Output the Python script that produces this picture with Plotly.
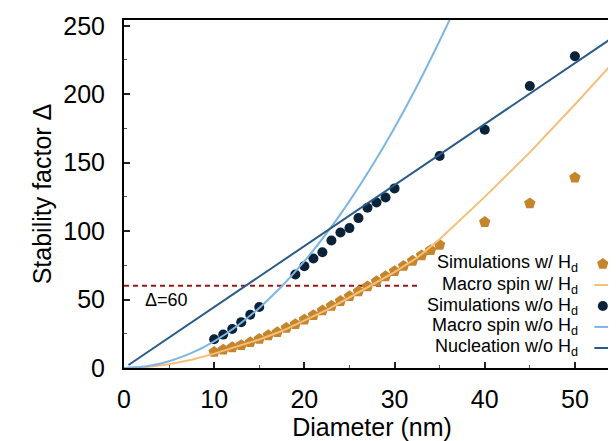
import plotly.graph_objects as go

# ---------------- data ----------------
sim_w_d = [10, 11, 12, 13, 14, 15, 16, 17, 18, 19, 20, 21, 22, 23, 24, 25, 26, 27,
           28, 29, 30, 31, 32, 33, 34, 35, 40, 45, 50]
sim_w_delta = [11.7, 13.4, 15.1, 16.7, 18.8, 21.2, 23.9, 26.1, 29.3, 32.0, 35.3, 38.6,
               42.0, 45.4, 48.9, 52.4, 56.0, 59.6, 63.3, 67.0, 70.7, 74.5, 78.3,
               82.2, 86.1, 90.0, 106.6, 120.2, 139.0]

macro_w_d = [0, 2.5, 5, 7.5, 10, 12.5, 15, 17.5, 20, 22.5, 25, 27.5, 30, 32.5, 35,
             40, 45, 50, 55]
macro_w_delta = [0, 0.7, 2.8, 6.0, 10.5, 15.5, 20.8, 27.0, 34.5, 42.5, 51.5, 60.5,
                 70.0, 80.5, 94.0, 125.0, 157.5, 192.5, 228.5]

sim_wo_d = [10, 11, 12, 13, 14, 15, 19, 20, 21, 22, 23, 24, 25, 26, 27, 28, 29, 30,
            35, 40, 45, 50]
sim_wo_delta = [21.0, 24.4, 28.5, 33.5, 38.9, 44.5, 68.3, 74.4, 80.0, 84.6, 93.1,
                99.0, 102.2, 109.5, 117.0, 120.9, 124.6, 131.2, 154.9, 174.1,
                206.0, 227.7]

macro_wo_d = [0, 2.5, 5, 7.5, 10, 12.5, 15, 17.5, 20, 22.5, 25, 27.5, 30, 32.5, 35, 37.5]
macro_wo_delta = [0, 1.2, 4.9, 11.0, 19.5, 30.5, 43.9, 59.7, 78.0, 98.7, 121.9,
                  147.5, 175.5, 206.0, 239.0, 274.0]

nucl_d = [0.5, 55]
nucl_delta = [2.2, 245.0]

thresh_d = [0, 32.5]
thresh_delta = [60, 60]

legend_labels = ["Simulations w/ H<sub>d</sub>", "Macro spin w/ H<sub>d</sub>",
                 "Simulations w/o H<sub>d</sub>", "Macro spin w/o H<sub>d</sub>",
                 "Nucleation w/o H<sub>d</sub>"]

x_ticks = [0, 10, 20, 30, 40, 50]
y_ticks = [0, 50, 100, 150, 200, 250]

# ---------------- styles ----------------
C_PENT = "#c5852d"
C_ORANGE = "#f5bf78"
C_DOT = "#0b2239"
C_LBLUE = "#7db6e3"
C_NUCL = "#2a5b88"
C_RED = "#9b1616"
FONT = "Liberation Sans, Arial, sans-serif"

fig = go.Figure()

fig.add_trace(go.Scatter(x=thresh_d, y=thresh_delta, mode="lines",
                         line=dict(color=C_RED, width=2, dash="5px,4px"),
                         showlegend=False, hoverinfo="skip"))
fig.add_trace(go.Scatter(x=sim_w_d, y=sim_w_delta, mode="markers",
                         marker=dict(symbol="pentagon", size=12, color=C_PENT,
                                     line=dict(width=0)),
                         showlegend=False))
fig.add_trace(go.Scatter(x=macro_w_d, y=macro_w_delta, mode="lines",
                         line=dict(color=C_ORANGE, width=2), showlegend=False))
fig.add_trace(go.Scatter(x=sim_wo_d, y=sim_wo_delta, mode="markers",
                         marker=dict(symbol="circle", size=10, color=C_DOT,
                                     line=dict(width=0)),
                         showlegend=False))
fig.add_trace(go.Scatter(x=macro_wo_d, y=macro_wo_delta, mode="lines",
                         line=dict(color=C_LBLUE, width=2, shape="spline"),
                         showlegend=False))
fig.add_trace(go.Scatter(x=nucl_d, y=nucl_delta, mode="lines",
                         line=dict(color=C_NUCL, width=2), showlegend=False))

# ---------------- custom legend (text left of key, as in reference) ----------------
row_y = [0.299, 0.2385, 0.178, 0.118, 0.0575]
text_x = 0.920
key_x0, key_x1, key_xc = 0.9483, 0.9825, 0.9654
key_styles = [
    dict(kind="marker", marker=dict(symbol="pentagon", size=12, color=C_PENT)),
    dict(kind="line", line=dict(color=C_ORANGE, width=2)),
    dict(kind="marker", marker=dict(symbol="circle", size=10, color=C_DOT)),
    dict(kind="line", line=dict(color=C_LBLUE, width=2)),
    dict(kind="line", line=dict(color=C_NUCL, width=2)),
]
for lab, ry, ks in zip(legend_labels, row_y, key_styles):
    fig.add_annotation(x=text_x, y=ry, xref="paper", yref="paper", text=lab,
                       showarrow=False, xanchor="right", yanchor="middle",
                       font=dict(family=FONT, size=18, color="black"))
    if ks["kind"] == "marker":
        fig.add_trace(go.Scatter(x=[key_xc], y=[ry], xaxis="x2", yaxis="y2",
                                 mode="markers", marker=ks["marker"],
                                 showlegend=False, hoverinfo="skip"))
    else:
        fig.add_trace(go.Scatter(x=[key_x0, key_x1], y=[ry, ry], xaxis="x2",
                                 yaxis="y2", mode="lines", line=ks["line"],
                                 showlegend=False, hoverinfo="skip"))

fig.add_annotation(x=4.7, y=49.5, xref="x", yref="y", text="Δ=60", showarrow=False,
                   xanchor="center", yanchor="middle",
                   font=dict(family=FONT, size=18, color="black"))

axis_common = dict(showline=True, linecolor="black", linewidth=2, mirror=True,
                   ticks="inside", ticklen=6, tickwidth=1.5, tickcolor="#222",
                   showgrid=False, zeroline=False, automargin=False,
                   tickfont=dict(family=FONT, size=25, color="black"))

fig.update_layout(
    width=616, height=441,
    margin=dict(l=116, r=4, t=12, b=81),
    paper_bgcolor="white", plot_bgcolor="white",
    font=dict(family=FONT, color="black"),
    xaxis=dict(range=[0, 55], tickvals=x_ticks, ticklabelstandoff=8,
               minor=dict(dtick=5, ticks="inside", ticklen=3, tickwidth=1.2,
                          tickcolor="#555"),
               title=dict(text="Diameter (nm)", font=dict(family=FONT, size=25),
                          standoff=4),
               **axis_common),
    yaxis=dict(range=[0, 254.2], tickvals=y_ticks, ticklabelstandoff=12,
               minor=dict(dtick=25, ticks="inside", ticklen=3, tickwidth=1.2,
                          tickcolor="#555"),
               title=dict(text="Stability factor Δ", font=dict(family=FONT, size=25),
                          standoff=5),
               **axis_common),
    xaxis2=dict(overlaying="x", range=[0, 1], visible=False),
    yaxis2=dict(overlaying="y", range=[0, 1], visible=False),
)

fig.write_html("out.html")
